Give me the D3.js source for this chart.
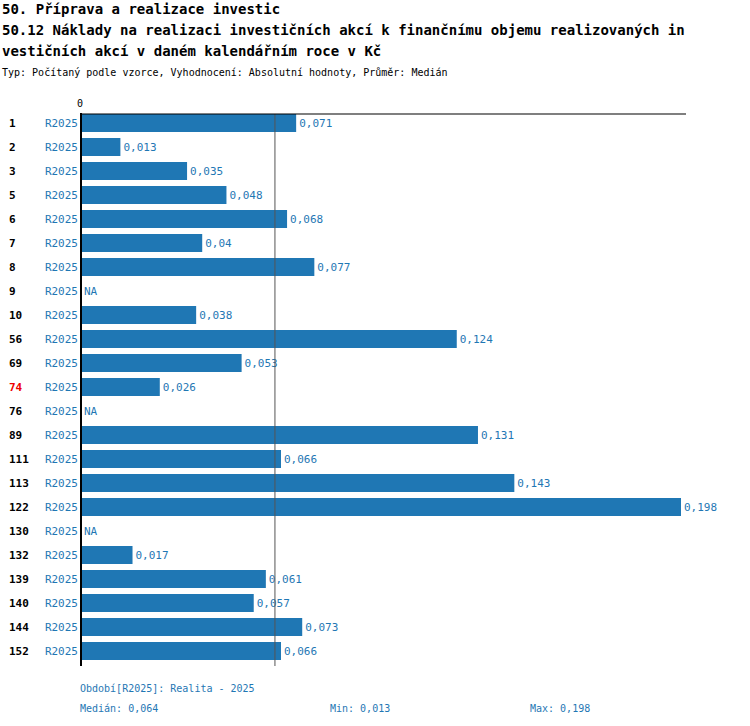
<!DOCTYPE html>
<html><head><meta charset="utf-8">
<script src="https://cdn.jsdelivr.net/npm/d3@7"></script>
<style>body{margin:0;background:#fff}text{font-family:"DejaVu Sans Mono",monospace}</style>
</head><body><svg id="c" width="750" height="726"></svg>
<script>
const ids = ["1","2","3","5","6","7","8","9","10","56","69","74","76","89","111","113","122","130","132","139","140","144","152"];
const values = [0.071,0.013,0.035,0.048,0.068,0.04,0.077,null,0.038,0.124,0.053,0.026,null,0.131,0.066,0.143,0.198,null,0.017,0.061,0.057,0.073,0.066];
const highlight = ["74"];
const period = "R2025";
const median = 0.064, minV = 0.013, maxV = 0.198;
const blue = "#1f77b4";

const svg = d3.select("#c");
const x = d3.scaleLinear().domain([0, 0.198]).range([81, 681]);
const y = d3.scaleBand().domain(ids).range([111, 663]).paddingInner(0.25).paddingOuter(0.125);
const fmt = v => String(v).replace(".", ",");

svg.append("text").attr("x",2).attr("y",14).attr("font-size",14).attr("font-weight","bold").text("50. Příprava a realizace investic");
svg.append("text").attr("x",2).attr("y",35).attr("font-size",14).attr("font-weight","bold").text("50.12 Náklady na realizaci investičních akcí k finančnímu objemu realizovaných in");
svg.append("text").attr("x",2).attr("y",56).attr("font-size",14).attr("font-weight","bold").text("vestičních akcí v daném kalendářním roce v Kč");
svg.append("text").attr("x",2).attr("y",76).attr("font-size",10).text("Typ: Počítaný podle vzorce, Vyhodnocení: Absolutní hodnoty, Průměr: Medián");

svg.append("text").attr("x",x(0)-1).attr("y",107).attr("font-size",10).attr("text-anchor","middle").text("0");

const rows = svg.append("g").selectAll("g").data(ids).join("g");
rows.append("text").attr("x",9).attr("y",d=>y(d)+y.bandwidth()/2+4).attr("font-size",11).attr("font-weight","bold")
  .attr("fill",d=>highlight.includes(d)?"#e00":"#000").text(d=>d);
rows.append("text").attr("x",78).attr("y",d=>y(d)+y.bandwidth()/2+4).attr("font-size",11).attr("text-anchor","end").attr("fill",blue).text(period);
rows.each(function(d,i){
  const g = d3.select(this), v = values[i], cy = y(d)+y.bandwidth()/2+4;
  if (v == null) { g.append("text").attr("x",84).attr("y",cy).attr("font-size",11).attr("fill",blue).text("NA"); return; }
  g.append("rect").attr("x",x(0)).attr("y",y(d)).attr("width",x(v)-x(0)).attr("height",y.bandwidth()).attr("fill",blue);
  g.append("text").attr("x",x(v)+3).attr("y",cy).attr("font-size",11).attr("fill",blue).text(fmt(v));
});

svg.append("line").attr("x1",x(median)).attr("x2",x(median)).attr("y1",114).attr("y2",666).attr("stroke","#555").attr("stroke-width",1);
svg.append("line").attr("x1",80).attr("x2",686).attr("y1",114).attr("y2",114).attr("stroke","#000").attr("stroke-width",1.2);
svg.append("line").attr("x1",81).attr("x2",81).attr("y1",113).attr("y2",666).attr("stroke","#000").attr("stroke-width",2);

svg.append("text").attr("x",80).attr("y",692).attr("font-size",10).attr("fill",blue).text("Období[R2025]: Realita - 2025");
svg.append("text").attr("x",80).attr("y",712).attr("font-size",10).attr("fill",blue).text("Medián: "+fmt(median));
svg.append("text").attr("x",330).attr("y",712).attr("font-size",10).attr("fill",blue).text("Min: "+fmt(minV));
svg.append("text").attr("x",530).attr("y",712).attr("font-size",10).attr("fill",blue).text("Max: "+fmt(maxV));
</script></body></html>
